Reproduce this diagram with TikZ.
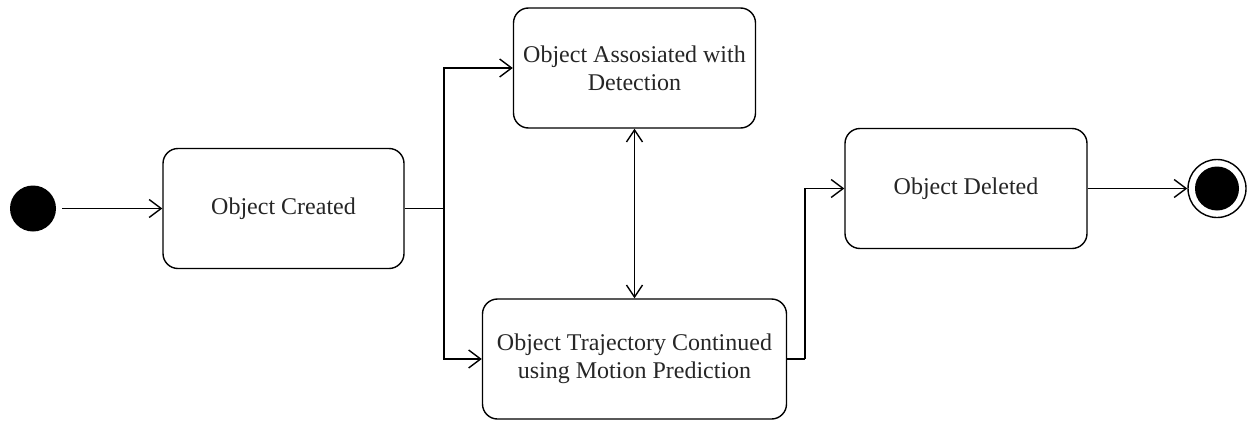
\documentclass[tikz,border=0pt]{standalone}
\usepackage{fontspec}
\setmainfont{Liberation Serif}
\usetikzlibrary{arrows.meta}
\tikzset{
  state/.style={draw=black, line width=1.4pt, rounded corners=15pt, fill=white,
    align=center, inner sep=0pt, text=black!85,
    font=\fontsize{24}{28}\selectfont},
  arr/.style={line width=1.4pt, -{Straight Barb[length=12pt,width=18pt,line width=1.4pt]}},
  dblarr/.style={line width=1.4pt, {Straight Barb[length=12pt,width=16pt,line width=1.4pt]}-{Straight Barb[length=12pt,width=16pt,line width=1.4pt]}},
  plain/.style={line width=1.4pt}
}
\begin{document}
\begin{tikzpicture}[x=1pt,y=-1pt]
\useasboundingbox (0,0) rectangle (1257,423);

% start and end markers
\node[circle, fill=black, minimum size=46pt, inner sep=0pt] (init) at (33,208.5) {};
\node[circle, draw=black, line width=1.4pt, fill=white, minimum size=58pt, inner sep=0pt] (final) at (1217,188.5) {};
\node[circle, fill=black, minimum size=44pt, inner sep=0pt] (finaldot) at (1217,188.5) {};

% states
\node[state, minimum width=241pt, minimum height=120pt] (created) at (283.5,208.5) {Object Created};
\node[state, minimum width=242pt, minimum height=120pt] (assoc) at (634.5,68) {Object Assosiated with\\Detection};
\node[state, minimum width=304pt, minimum height=120pt] (traj) at (634.5,359) {Object Trajectory Continued\\using Motion Prediction};
\node[state, minimum width=242pt, minimum height=120pt] (deleted) at (966,188.5) {Object Deleted};

% junction points of the orthogonal connectors
\coordinate (split) at (444,208.5);
\coordinate (merge) at (805,359);

% transitions
\draw[arr, shorten <=6pt] (init) -- (created);
\draw[plain] (created.east) -- (split);
\draw[arr] (split) |- (assoc.west);
\draw[arr] (split) |- (traj.west);
\draw[dblarr] (assoc.south) -- (traj.north);
\draw[plain] (traj.east) -- (merge);
\draw[arr] (merge) |- (deleted.west);
\draw[arr] (deleted.east) -- (final);
\end{tikzpicture}
\end{document}
